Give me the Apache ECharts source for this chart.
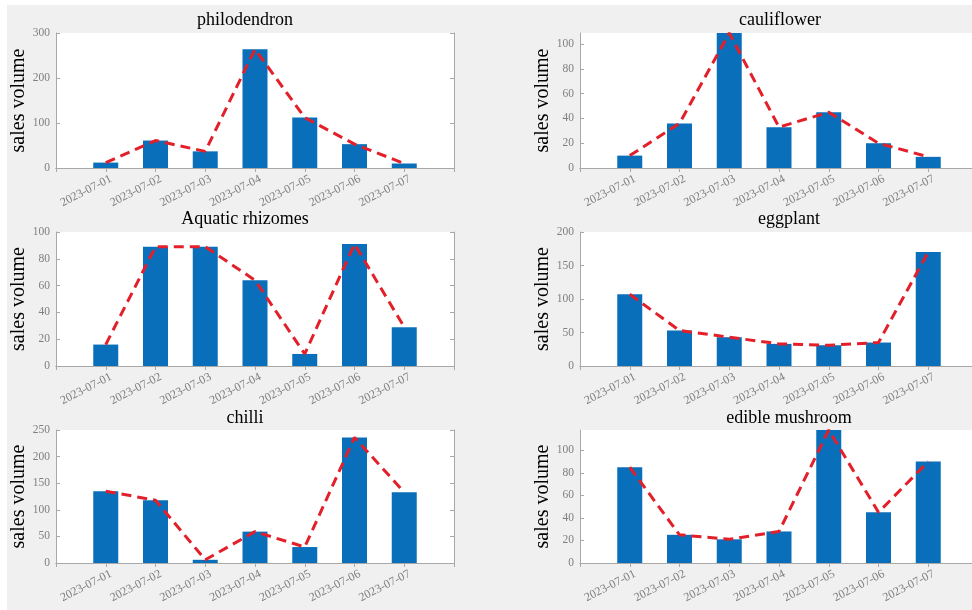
<!DOCTYPE html>
<html>
<head>
<meta charset="utf-8">
<script src="https://cdn.jsdelivr.net/npm/echarts@6/dist/echarts.min.js"></script>
<style>html,body{margin:0;padding:0;background:#fff;overflow:hidden}#c{width:972px;height:610px}</style>
</head>
<body>
<div id="c"></div>
<script>
const categories = ['2023-07-01','2023-07-02','2023-07-03','2023-07-04','2023-07-05','2023-07-06','2023-07-07'];
const titles = ['philodendron','cauliflower','Aquatic rhizomes','eggplant','chilli','edible mushroom'];
const philodendron   = [12, 61, 37, 264, 112, 53, 10];
const cauliflower    = [10, 36, 109, 33, 45, 20, 9];
const aquaticRhizomes= [16, 89, 89, 64, 9, 91, 29];
const eggplant       = [107, 53, 43, 33, 31, 35, 170];
const chilli         = [135, 118, 6, 59, 30, 236, 133];
const edibleMushroom = [85, 25, 21, 28, 118, 45, 90];
const seriesValues = [philodendron, cauliflower, aquaticRhizomes, eggplant, chilli, edibleMushroom];
const yMax      = [300, 109, 100, 200, 250, 118];
const yInterval = [100, 20, 20, 50, 50, 20];
const yLabel = 'sales volume';

const axisData = [' '].concat(categories, ['  ']);
const frame = '#a8a8a8';
const tickColor = '#7f7f7f';

const lefts = [56, 580];
const tops = [33, 232, 430];
const heights = [135, 134, 133];
const titleX = [245, 780, 245, 789, 245, 789];
const titleY = [11, 11, 210, 210, 409, 409];

const grids = [], xAxes = [], yAxes = [], series = [], titleOpts = [];
seriesValues.forEach((vals, i) => {
  const col = i % 2, row = Math.floor(i / 2);
  grids.push({left: lefts[col], top: tops[row], width: 398, height: heights[row],
    show: true, backgroundColor: '#ffffff', borderWidth: 0, containLabel: false,
    outerBoundsMode: 'none'});
  const xBase = {type: 'category', gridIndex: i, data: axisData, boundaryGap: false,
    axisLine: {show: true, lineStyle: {color: frame, width: 1}},
    axisTick: {show: true, inside: true, length: 4, interval: 0, lineStyle: {color: frame}},
    splitLine: {show: false}};
  xAxes.push(Object.assign({}, xBase, {position: 'bottom',
    axisLabel: {show: true, interval: 0, rotate: 27, margin: 13, color: tickColor,
      fontFamily: 'Liberation Serif', fontSize: 12, padding: [0, -6, 0, 0]}}));
  xAxes.push(Object.assign({}, xBase, {position: 'top', axisLabel: {show: false}}));
  const yBase = {type: 'value', gridIndex: i, min: 0, max: yMax[i], interval: yInterval[i],
    axisLine: {show: true, lineStyle: {color: frame, width: 1}},
    axisTick: {show: true, inside: true, length: 4, lineStyle: {color: frame}},
    splitLine: {show: false}};
  yAxes.push(Object.assign({}, yBase, {position: 'left',
    name: yLabel, nameLocation: 'middle', nameRotate: 90, nameGap: 24,
    nameTextStyle: {fontFamily: 'Liberation Serif', fontSize: 20, color: '#000'},
    axisLabel: {show: true, margin: 6, color: tickColor, fontFamily: 'Liberation Serif', fontSize: 11.5,
      showMaxLabel: (yMax[i] % yInterval[i] === 0)}}));
  yAxes.push(Object.assign({}, yBase, {position: 'right', axisLabel: {show: false}}));
  const pts = categories.map((c, k) => [c, vals[k]]);
  series.push({type: 'bar', xAxisIndex: 2 * i, yAxisIndex: 2 * i, data: pts, barWidth: 25,
    itemStyle: {color: '#0a6fba'}, silent: true, animation: false});
  series.push({type: 'line', xAxisIndex: 2 * i, yAxisIndex: 2 * i, data: pts, symbol: 'none',
    lineStyle: {color: '#e3202a', width: 3, type: [10, 6]}, silent: true, animation: false, z: 3});
  titleOpts.push({text: titles[i], left: titleX[i], top: titleY[i], textAlign: 'center', padding: 0,
    textStyle: {fontFamily: 'Liberation Serif', fontSize: 18, fontWeight: 'normal', color: '#000'}});
});

const chart = echarts.init(document.getElementById('c'));
chart.setOption({
  backgroundColor: '#f0f0f0',
  animation: false,
  title: titleOpts,
  grid: grids,
  xAxis: xAxes,
  yAxis: yAxes,
  series: series,
  graphic: [
    {type: 'rect', shape: {x: 0, y: 0, width: 972, height: 5}, style: {fill: '#ffffff'}, silent: true},
    {type: 'rect', shape: {x: 0, y: 0, width: 7, height: 610}, style: {fill: '#ffffff'}, silent: true}
  ]
});
</script>
</body>
</html>
